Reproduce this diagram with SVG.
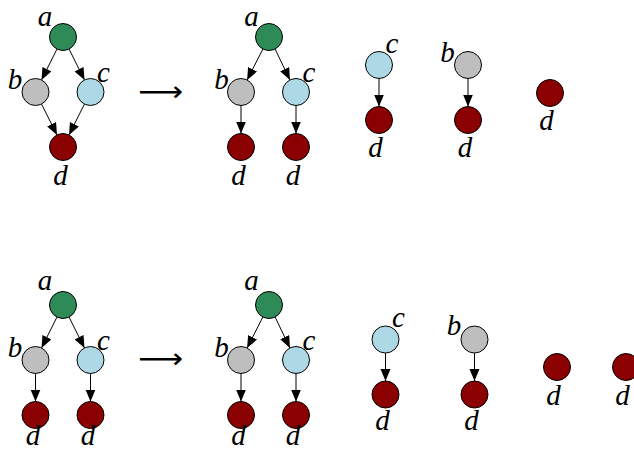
<svg xmlns="http://www.w3.org/2000/svg" width="634" height="452" viewBox="0 0 634 452">
<style>
.n{stroke:#000;stroke-width:1}
.g{fill:#2e8b57}.s{fill:#bebebe}.l{fill:#add8e6}.r{fill:#8b0000}
.t{font-family:"Liberation Serif","DejaVu Serif",serif;font-style:italic;font-size:29px;fill:#000;text-anchor:middle}
.e{stroke:#000;stroke-width:1;fill:none;marker-end:url(#ah)}
.ar{font-family:"DejaVu Sans",sans-serif;font-size:28px;fill:#000}
</style>
<defs>
<marker id="ah" markerUnits="userSpaceOnUse" markerWidth="13" markerHeight="11" refX="12" refY="5" orient="auto">
<path d="M0,0 L12,5 L0,10 z" fill="#000"/>
</marker>
</defs>
<rect width="634" height="452" fill="#fff"/>
<g id="connectors">
<line class="e" x1="56.96" y1="49.07" x2="41.54" y2="79.93"/>
<line class="e" x1="69.04" y1="49.07" x2="84.46" y2="79.93"/>
<line class="e" x1="41.54" y1="104.07" x2="56.96" y2="134.93"/>
<line class="e" x1="84.46" y1="104.07" x2="69.04" y2="134.93"/>
<line class="e" x1="262.88" y1="49.03" x2="247.12" y2="79.97"/>
<line class="e" x1="275.12" y1="49.03" x2="289.88" y2="79.97"/>
<line class="e" x1="241" y1="105.5" x2="241" y2="133.5"/>
<line class="e" x1="296" y1="105.5" x2="296" y2="133.5"/>
<line class="e" x1="379" y1="78.5" x2="379" y2="106.5"/>
<line class="e" x1="468" y1="78.5" x2="468" y2="106.5"/>
<line class="e" x1="56.96" y1="317.07" x2="41.54" y2="347.93"/>
<line class="e" x1="69.04" y1="317.07" x2="84.46" y2="347.93"/>
<line class="e" x1="35.5" y1="373.5" x2="35.5" y2="401.5"/>
<line class="e" x1="90.5" y1="373.5" x2="90.5" y2="401.5"/>
<line class="e" x1="262.88" y1="317.03" x2="247.12" y2="347.97"/>
<line class="e" x1="275.12" y1="317.03" x2="289.88" y2="347.97"/>
<line class="e" x1="241" y1="373.5" x2="241" y2="401.5"/>
<line class="e" x1="296" y1="373.5" x2="296" y2="401.5"/>
<line class="e" x1="385.5" y1="353" x2="385.5" y2="381"/>
<line class="e" x1="474.5" y1="353" x2="474.5" y2="381"/>
</g>
<text class="ar" x="138" y="101" textLength="45" lengthAdjust="spacingAndGlyphs">⟶</text>
<text class="ar" x="138" y="368" textLength="45" lengthAdjust="spacingAndGlyphs">⟶</text>
<g id="t1a"><circle class="n g" cx="63" cy="37" r="13.5"/><text class="t" x="45" y="26">a</text></g>
<g id="t1b"><circle class="n s" cx="35.5" cy="92" r="13.5"/><text class="t" x="15" y="89">b</text></g>
<g id="t1c"><circle class="n l" cx="90.5" cy="92" r="13.5"/><text class="t" x="103.5" y="82">c</text></g>
<g id="t1d"><circle class="n r" cx="63" cy="147" r="13.5"/><text class="t" x="60.5" y="185">d</text></g>
<g id="t2a"><circle class="n g" cx="269" cy="37" r="13.5"/><text class="t" x="251.5" y="26">a</text></g>
<g id="t2b"><circle class="n s" cx="241" cy="92" r="13.5"/><text class="t" x="221.5" y="89">b</text></g>
<g id="t2c"><circle class="n l" cx="296" cy="92" r="13.5"/><text class="t" x="309" y="82">c</text></g>
<g id="t2d1"><circle class="n r" cx="241" cy="147" r="13.5"/><text class="t" x="238.5" y="185">d</text></g>
<g id="t2d2"><circle class="n r" cx="296" cy="147" r="13.5"/><text class="t" x="293" y="185">d</text></g>
<g id="t3c"><circle class="n l" cx="379" cy="65" r="13.5"/><text class="t" x="392" y="53">c</text></g>
<g id="t3d"><circle class="n r" cx="379" cy="120" r="13.5"/><text class="t" x="375.5" y="157">d</text></g>
<g id="t4b"><circle class="n s" cx="468" cy="65" r="13.5"/><text class="t" x="447.5" y="62">b</text></g>
<g id="t4d"><circle class="n r" cx="468" cy="120" r="13.5"/><text class="t" x="465" y="157">d</text></g>
<g id="t5d"><circle class="n r" cx="550" cy="93" r="13.5"/><text class="t" x="546.5" y="130">d</text></g>
<g id="b1a"><circle class="n g" cx="63" cy="305" r="13.5"/><text class="t" x="45" y="290">a</text></g>
<g id="b1b"><circle class="n s" cx="35.5" cy="360" r="13.5"/><text class="t" x="15" y="357">b</text></g>
<g id="b1c"><circle class="n l" cx="90.5" cy="360" r="13.5"/><text class="t" x="103.5" y="350">c</text></g>
<g id="b1d1"><circle class="n r" cx="35.5" cy="415" r="13.5"/><text class="t" x="33" y="445">d</text></g>
<g id="b1d2"><circle class="n r" cx="90.5" cy="415" r="13.5"/><text class="t" x="88" y="445">d</text></g>
<g id="b2a"><circle class="n g" cx="269" cy="305" r="13.5"/><text class="t" x="251.5" y="290">a</text></g>
<g id="b2b"><circle class="n s" cx="241" cy="360" r="13.5"/><text class="t" x="221.5" y="357">b</text></g>
<g id="b2c"><circle class="n l" cx="296" cy="360" r="13.5"/><text class="t" x="309" y="350">c</text></g>
<g id="b2d1"><circle class="n r" cx="241" cy="415" r="13.5"/><text class="t" x="238.5" y="445">d</text></g>
<g id="b2d2"><circle class="n r" cx="296" cy="415" r="13.5"/><text class="t" x="293" y="445">d</text></g>
<g id="b3c"><circle class="n l" cx="385.5" cy="339.5" r="13.5"/><text class="t" x="398.5" y="327">c</text></g>
<g id="b3d"><circle class="n r" cx="385.5" cy="394.5" r="13.5"/><text class="t" x="382.5" y="430">d</text></g>
<g id="b4b"><circle class="n s" cx="474.5" cy="339.5" r="13.5"/><text class="t" x="454" y="335">b</text></g>
<g id="b4d"><circle class="n r" cx="474.5" cy="394.5" r="13.5"/><text class="t" x="471.5" y="430">d</text></g>
<g id="b5d"><circle class="n r" cx="557" cy="367" r="13.5"/><text class="t" x="553.5" y="405">d</text></g>
<g id="b6d"><circle class="n r" cx="626" cy="367" r="13.5"/><text class="t" x="622.5" y="405">d</text></g>
</svg>
